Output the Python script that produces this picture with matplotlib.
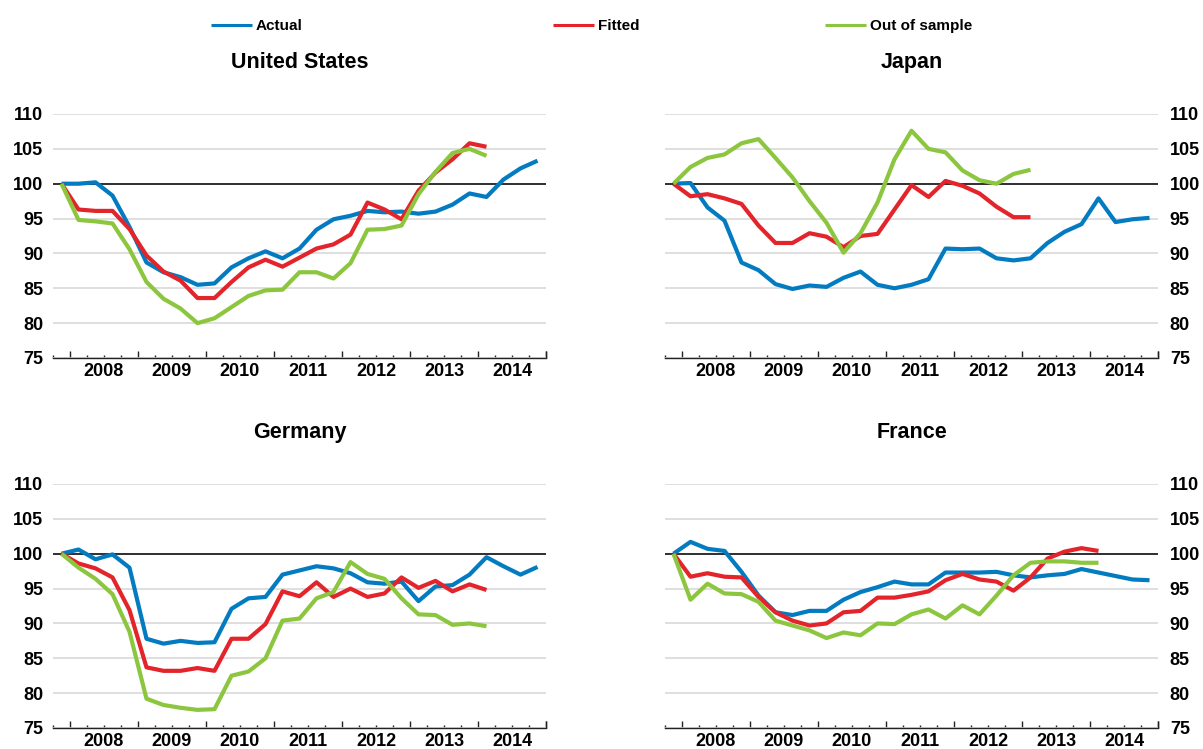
import numpy as np
import matplotlib.pyplot as plt
from matplotlib.lines import Line2D

plt.rcParams['font.family'] = ['Liberation Sans', 'DejaVu Sans']

years = ['2008', '2009', '2010', '2011', '2012', '2013', '2014']

# quarterly index, 2007Q4 = 100
us_actual = [100, 100, 100.2, 98.3, 93.8, 88.7, 87.3, 86.6, 85.5, 85.7, 88.0, 89.3, 90.3, 89.3, 90.7,
             93.4, 94.9, 95.4, 96.1, 95.9, 96.0, 95.7, 96.0, 97.0, 98.6, 98.1, 100.6, 102.2, 103.3]
us_fitted = [100, 96.3, 96.1, 96.1, 93.5, 89.7, 87.4, 86.1, 83.6, 83.6, 85.9, 88.0, 89.1, 88.1, 89.4,
             90.7, 91.3, 92.7, 97.3, 96.3, 94.9, 99.0, 101.6, 103.5, 105.8, 105.3]
us_oos = [100, 94.8, 94.6, 94.3, 90.6, 85.9, 83.5, 82.1, 80.0, 80.7, 82.3, 83.9, 84.7, 84.8, 87.3,
          87.3, 86.4, 88.6, 93.4, 93.5, 94.0, 98.5, 101.7, 104.4, 105.0, 104.0]

jp_actual = [100, 100.1, 96.6, 94.7, 88.7, 87.6, 85.6, 84.9, 85.4, 85.2, 86.5, 87.4, 85.5, 85.0, 85.5,
             86.3, 90.7, 90.6, 90.7, 89.3, 89.0, 89.3, 91.5, 93.1, 94.2, 97.9, 94.5, 94.9, 95.1]
jp_fitted = [100, 98.2, 98.5, 97.9, 97.1, 94.0, 91.5, 91.5, 92.9, 92.4, 90.9, 92.5, 92.8, 96.3, 99.8,
             98.1, 100.4, 99.7, 98.6, 96.7, 95.2, 95.2]
jp_oos = [100, 102.4, 103.7, 104.2, 105.8, 106.4, 103.7, 100.9, 97.5, 94.4, 90.1, 92.9, 97.3, 103.5,
          107.6, 105.0, 104.5, 101.9, 100.5, 100.0, 101.4, 102.0]

de_actual = [100, 100.6, 99.2, 99.9, 98.0, 87.8, 87.1, 87.5, 87.2, 87.3, 92.1, 93.6, 93.8, 97.0, 97.6,
             98.2, 97.9, 97.2, 95.9, 95.7, 96.0, 93.2, 95.3, 95.5, 97.0, 99.5, 98.2, 97.0, 98.1]
de_fitted = [100, 98.6, 97.9, 96.6, 91.9, 83.7, 83.2, 83.2, 83.6, 83.2, 87.8, 87.8, 89.9, 94.6, 93.9,
             95.9, 93.8, 95.0, 93.8, 94.3, 96.6, 95.1, 96.1, 94.6, 95.6, 94.8]
de_oos = [100, 98.0, 96.4, 94.2, 88.8, 79.2, 78.3, 77.9, 77.6, 77.7, 82.5, 83.1, 85.0, 90.4, 90.7,
          93.6, 94.5, 98.8, 97.1, 96.4, 93.6, 91.3, 91.2, 89.8, 90.0, 89.6]

fr_actual = [100, 101.7, 100.7, 100.4, 97.4, 94.0, 91.6, 91.2, 91.8, 91.8, 93.4, 94.5, 95.2, 96.0, 95.6,
             95.6, 97.3, 97.3, 97.3, 97.4, 96.9, 96.6, 96.9, 97.1, 97.8, 97.3, 96.8, 96.3, 96.2]
fr_fitted = [100, 96.7, 97.2, 96.7, 96.6, 93.8, 91.6, 90.4, 89.7, 90.0, 91.6, 91.8, 93.7, 93.7, 94.1,
             94.6, 96.2, 97.1, 96.3, 96.0, 94.7, 96.6, 99.3, 100.3, 100.8, 100.4]
fr_oos = [100, 93.4, 95.7, 94.3, 94.2, 93.1, 90.4, 89.7, 89.0, 87.9, 88.7, 88.3, 90.0, 89.9, 91.3,
          92.0, 90.7, 92.6, 91.3, 94.0, 96.9, 98.7, 98.9, 98.9, 98.7, 98.7]

BLUE = '#037BC1'
RED = '#E3242B'
GREEN = '#8CC63F'
n_q = 29


def draw_panel(ax, title, actual, fitted, oos, right=False):
    ax.set_ylim(75, 110)
    ax.set_xlim(-0.5, n_q - 0.5)
    ax.set_yticks(np.arange(75, 111, 5))
    ax.yaxis.grid(True, color='#d9d9d9', lw=1.2)
    ax.set_axisbelow(True)
    ax.axhline(100, color='black', lw=1.1, zorder=1.5)

    kw = dict(lw=3.0, solid_capstyle='butt', solid_joinstyle='round')
    ax.plot(np.arange(len(actual)), actual, color=BLUE, **kw)
    ax.plot(np.arange(len(fitted)), fitted, color=RED, **kw)
    ax.plot(np.arange(len(oos)), oos, color=GREEN, **kw)

    for s in ['top', 'left', 'right']:
        ax.spines[s].set_visible(False)
    ax.spines['bottom'].set_color('#222222')
    ax.spines['bottom'].set_linewidth(1)

    major = np.arange(0.5, n_q, 4)
    major = np.append(major, n_q - 0.5)
    minor = [k + 0.5 for k in range(-1, n_q - 1) if (k + 0.5) not in major]
    ax.set_xticks(major)
    ax.set_xticks(minor, minor=True)
    ax.set_xticklabels([])
    ax.tick_params(axis='x', which='major', direction='in', length=5, width=1, color='#222222')
    ax.tick_params(axis='x', which='minor', direction='in', length=2.3, width=1, color='#222222')
    for i, y in enumerate(years):
        ax.annotate(y, xy=(2.5 + 4 * i, 0), xycoords=('data', 'axes fraction'),
                    xytext=(0, -14), textcoords='offset pixels', ha='center', va='center',
                    fontsize=13, fontweight='bold')

    if right:
        ax.yaxis.tick_right()
        ax.tick_params(axis='y', length=0, pad=8.5, labelsize=13)
    else:
        ax.tick_params(axis='y', length=0, pad=7, labelsize=13)
    for lab in ax.get_yticklabels():
        lab.set_fontweight('bold')

    ax.text(0.5, 1.21, title, transform=ax.transAxes, ha='center', va='center',
            fontsize=15.5, fontweight='bold')


fig = plt.figure(figsize=(12.03, 7.49), dpi=100)
left_x, right_x, w = 53 / 1203, 665 / 1203, 493 / 1203
top_y, bot_y, h = 1 - 358 / 749, 1 - 728 / 749, 244 / 749

ax_us = fig.add_axes([left_x, top_y, w, h])
ax_jp = fig.add_axes([right_x, top_y, w, h])
ax_de = fig.add_axes([left_x, bot_y, w, h])
ax_fr = fig.add_axes([right_x, bot_y, w, h])

draw_panel(ax_us, 'United States', us_actual, us_fitted, us_oos)
draw_panel(ax_jp, 'Japan', jp_actual, jp_fitted, jp_oos, right=True)
draw_panel(ax_de, 'Germany', de_actual, de_fitted, de_oos)
draw_panel(ax_fr, 'France', fr_actual, fr_fitted, fr_oos, right=True)

# legend entries spread across the top
entries = [('Actual', BLUE, 211), ('Fitted', RED, 553), ('Out of sample', GREEN, 825)]
for label, col, px in entries:
    h_line = Line2D([], [], color=col, lw=2.2, solid_capstyle='butt')
    fig.legend(handles=[h_line], labels=[label], loc='center left',
               bbox_to_anchor=(px / 1203, 1 - 26 / 749), frameon=False,
               borderpad=0, borderaxespad=0, handlelength=2.7, handletextpad=0.25,
               prop={'family': ['Liberation Sans Narrow', 'Liberation Sans'],
                     'weight': 'bold', 'size': 11})

fig.savefig('out.png', dpi=100)
